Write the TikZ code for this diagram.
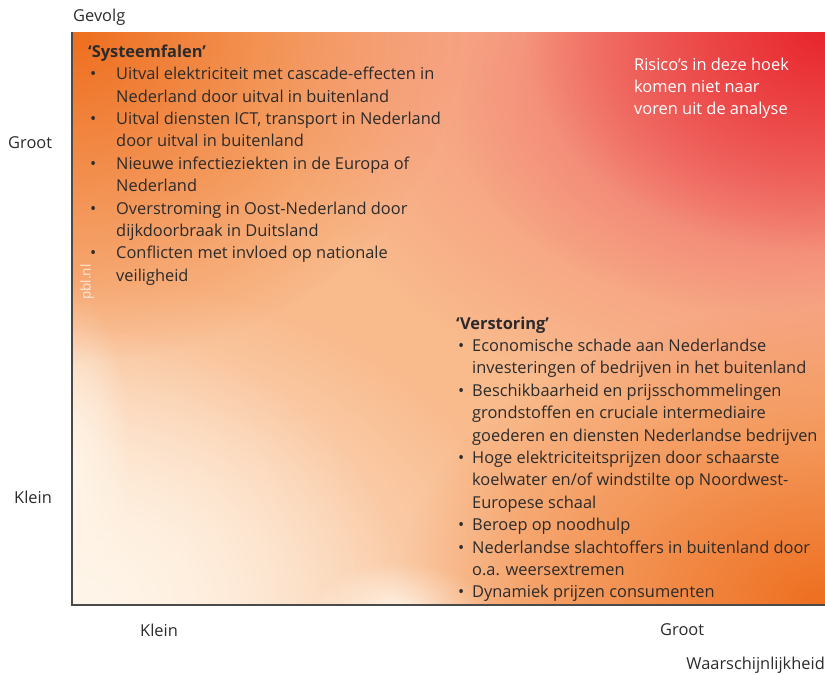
\documentclass[tikz,border=0pt]{standalone}
\usepackage{fontspec}
\setmainfont{Open Sans}
\usetikzlibrary{fadings}
\tikzfading[name=radfade, inner color=transparent!0, outer color=transparent!100]
\definecolor{basepeach}{HTML}{F9BA8C}
\definecolor{cream}{HTML}{FFF5E8}
\definecolor{deeporange}{HTML}{EE6E1E}
\definecolor{pinkish}{HTML}{F27670}
\definecolor{redcorner}{HTML}{E8262C}
\definecolor{txt}{HTML}{2B2B2B}
\definecolor{axisgray}{HTML}{4A4A4A}
\tikzset{
  blocktext/.style={anchor=north west, inner sep=0pt, align=left, text=txt,
    font=\fontsize{16.4}{22.4}\selectfont},
  axislabel/.style={text=txt, font=\fontsize{16.4}{19}\selectfont, inner sep=0pt},
  glow/.style={path fading=radfade, fit fading=true},
  axisline/.style={draw=axisgray, line width=1.3pt}
}
\newcommand{\bul}{\makebox[28pt][l]{\hspace{2pt}\textbullet}}
\newcommand{\ind}{\hspace*{28pt}}
\newcommand{\bulb}{\makebox[16pt][l]{\hspace{2pt}\textbullet}}
\newcommand{\indb}{\hspace*{16pt}}
\begin{document}
\begin{tikzpicture}[x=1pt,y=-1pt]
\useasboundingbox (0,0) rectangle (825,675);
% background
\begin{scope}
\clip (72,32) rectangle (825,605);
\fill[basepeach] (72,32) rectangle (825,605);
\fill[cream, glow] (72,605) ellipse (470 and 330);
\fill[cream, glow] (72,605) ellipse (330 and 280);
\fill[cream, glow] (72,470) ellipse (60 and 180);
\fill[cream, glow] (400,612) ellipse (90 and 50);
\fill[deeporange, glow] (72,32) ellipse (390 and 330);
\fill[pinkish, glow] (825,32) ellipse (560 and 400);
\fill[pinkish, glow] (760,110) ellipse (300 and 200);
\fill[redcorner, glow] (825,32) ellipse (300 and 220);
\fill[deeporange, glow] (825,605) ellipse (430 and 300);
\end{scope}
% axes
\coordinate (origin) at (72,605);
\coordinate (ytop) at (72,32);
\coordinate (xend) at (825,605);
\draw[axisline] (ytop) -- (origin) -- (xend);
% axis labels
\node[axislabel, anchor=west] (gevolg) at (73,17) {Gevolg};
\node[axislabel, anchor=west] (ygroot) at (8,143) {Groot};
\node[axislabel, anchor=west] (yklein) at (14,497) {Klein};
\node[axislabel, anchor=west] (xklein) at (140,630) {Klein};
\node[axislabel, anchor=west] (xgroot) at (660,630) {Groot};
\node[axislabel, anchor=east] (waar) at (825,665) {Waarschijnlijkheid};
% watermark
\node[rotate=90, text=white, opacity=0.75, font=\fontsize{13.5}{14}\selectfont, inner sep=0pt] (pbl) at (87,282) {pbl.nl};
% Systeemfalen
\node[blocktext] (sys) at (88,44.5) {%
\textbf{‘Systeemfalen’}\\
\bul Uitval elektriciteit met cascade-effecten in\\
\ind Nederland door uitval in buitenland\\
\bul Uitval diensten ICT, transport in Nederland\\
\ind door uitval in buitenland\\
\bul Nieuwe infectieziekten in de Europa of\\
\ind Nederland\\
\bul Overstroming in Oost-Nederland door\\
\ind dijkdoorbraak in Duitsland\\
\bul Conflicten met invloed op nationale\\
\ind veiligheid};
% Verstoring
\node[blocktext] (ver) at (456,316.5) {%
\textbf{‘Verstoring’}\\
\bulb Economische schade aan Nederlandse\\
\indb investeringen of bedrijven in het buitenland\\
\bulb Beschikbaarheid en prijsschommelingen\\
\indb grondstoffen en cruciale intermediaire\\
\indb goederen en diensten Nederlandse bedrijven\\
\bulb Hoge elektriciteitsprijzen door schaarste\\
\indb koelwater en/of windstilte op Noordwest-\\
\indb Europese schaal\\
\bulb Beroep op noodhulp\\
\bulb Nederlandse slachtoffers in buitenland door\\
\indb o.a. weersextremen\\
\bulb Dynamiek prijzen consumenten};
% corner note
\node[blocktext, text=white] (corner) at (634,57.5) {%
Risico's in deze hoek\\
komen niet naar\\
voren uit de analyse};
\end{tikzpicture}
\end{document}
